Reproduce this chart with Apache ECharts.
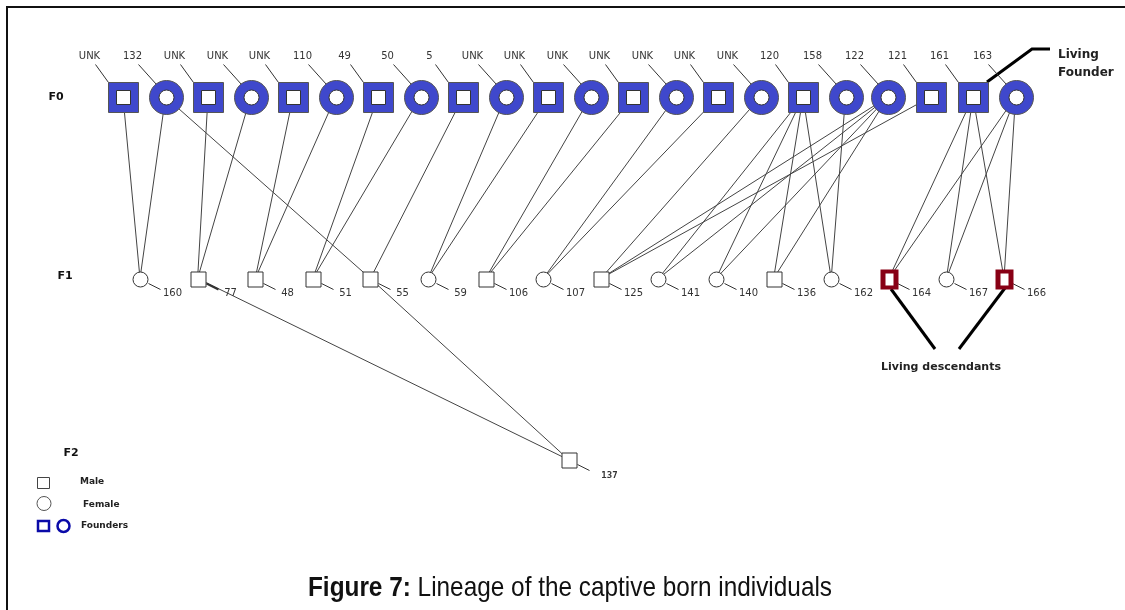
<!DOCTYPE html>
<html>
<head>
<meta charset="utf-8">
<script src="https://cdn.jsdelivr.net/npm/echarts@6/dist/echarts.min.js"></script>
<style>
  html, body { margin: 0; padding: 0; background: #fff; }
  #main { width: 1125px; height: 610px; }
</style>
</head>
<body>
<div id="main"></div>
<script>
// founders (F0), left to right
var f0Ids = ['UNK', '132', 'UNK', 'UNK', 'UNK', '110', '49', '50', '5', 'UNK', 'UNK',
             'UNK', 'UNK', 'UNK', 'UNK', 'UNK', '120', '158', '122', '121', '161', '163'];
var f0Sex = ['M', 'F', 'M', 'F', 'M', 'F', 'M', 'F', 'M', 'F', 'M',
             'F', 'M', 'F', 'M', 'F', 'M', 'F', 'F', 'M', 'M', 'F'];

// first generation (F1)
var f1Ids = ['160', '77', '48', '51', '55', '59', '106', '107', '125', '141', '140', '136', '162', '164', '167', '166'];
var f1Sex = ['F', 'M', 'M', 'M', 'M', 'F', 'M', 'F', 'M', 'F', 'F', 'M', 'F', 'M', 'F', 'M'];
// index of parents in f0Ids
var f1Parents = [[0, 1], [2, 3], [4, 5], [6, 7], [8, 1], [9, 10], [11, 12], [13, 14],
                 [15, 18, 19], [16, 18], [16, 18], [16, 18], [16, 17], [20, 21], [20, 21], [20, 21]];

// second generation (F2)
var f2Ids = ['137'];
var f2Sex = ['M'];
var f2Parents = [[1, 4]]; // index in f1Ids

var livingDescendants = ['164', '166'];

// layout of the rows
var ROW_START = [123, 140, 569];
var ROW_STEP = [42.5, 57.6, 0];
function xOf(gen, i) { return ROW_START[gen] + ROW_STEP[gen] * i; }

var BLUE = '#3F48CC';
var RED = '#880015';
var LINE = '#444';

var nodes = [];
f0Ids.forEach(function (id, i) { nodes.push([xOf(0, i), 0, id, f0Sex[i]]); });
f1Ids.forEach(function (id, i) { nodes.push([xOf(1, i), 1, id, f1Sex[i]]); });
f2Ids.forEach(function (id, i) { nodes.push([xOf(2, i), 2, id, f2Sex[i]]); });

var edges = [];
f1Parents.forEach(function (ps, j) {
  ps.forEach(function (p) { edges.push([xOf(0, p), 0, xOf(1, j), 1]); });
});
f2Parents.forEach(function (ps, j) {
  ps.forEach(function (p) { edges.push([xOf(1, p), 1, xOf(2, j), 2]); });
});

var chart = echarts.init(document.getElementById('main'));

function renderEdge(params, api) {
  var a = api.coord([api.value(0), api.value(1)]);
  var b = api.coord([api.value(2), api.value(3)]);
  return {
    type: 'line',
    shape: { x1: a[0], y1: a[1], x2: b[0], y2: b[1] },
    style: { stroke: LINE, lineWidth: 1 }
  };
}

function renderNode(params, api) {
  var gen = api.value(1);
  var id = nodes[params.dataIndex][2];
  var sex = nodes[params.dataIndex][3];
  var p = api.coord([api.value(0), gen]);
  var cx = Math.round(p[0]) + 0.5, cy = Math.round(p[1]) + 0.5;
  var ch = [];
  var font = '10px "DejaVu Sans"';
  if (gen === 0) {
    ch.push({ type: 'text', style: { text: id, x: cx - 34, y: cy - 41, fill: '#333', font: font, align: 'center', verticalAlign: 'middle' } });
    ch.push({ type: 'line', shape: { x1: cx - 28, y1: cy - 33, x2: sex === 'M' ? cx - 15 : cx - 10, y2: sex === 'M' ? cy - 15 : cy - 13 }, style: { stroke: '#333', lineWidth: 1 } });
    if (sex === 'M') {
      ch.push({ type: 'rect', shape: { x: cx - 15, y: cy - 15, width: 30, height: 30 }, style: { fill: BLUE, stroke: '#555', lineWidth: 1 } });
      ch.push({ type: 'rect', shape: { x: cx - 7, y: cy - 7, width: 14, height: 14 }, style: { fill: '#fff', stroke: '#333', lineWidth: 1 } });
    } else {
      ch.push({ type: 'circle', shape: { cx: cx, cy: cy, r: 17 }, style: { fill: BLUE, stroke: '#555', lineWidth: 1 } });
      ch.push({ type: 'circle', shape: { cx: cx, cy: cy, r: 7.5 }, style: { fill: '#fff', stroke: '#333', lineWidth: 1 } });
    }
  } else {
    var off = gen === 1 ? [32, 14] : [40, 15];
    ch.push({ type: 'text', style: { text: id, x: cx + off[0], y: cy + off[1], fill: '#333', font: gen === 1 ? font : 'bold 9px "DejaVu Sans Mono"', align: 'center', verticalAlign: 'middle' } });
    ch.push({ type: 'line', shape: { x1: cx + 8, y1: cy + 4, x2: cx + 20, y2: cy + 10 }, style: { stroke: '#333', lineWidth: id === '77' ? 2 : 1 } });
    if (livingDescendants.indexOf(id) >= 0) {
      ch.push({ type: 'rect', shape: { x: cx - 9, y: cy - 10, width: 18, height: 20 }, style: { fill: RED } });
      ch.push({ type: 'rect', shape: { x: cx - 4, y: cy - 6, width: 8, height: 12 }, style: { fill: '#fff' } });
    } else if (sex === 'M') {
      ch.push({ type: 'rect', shape: { x: cx - 7.5, y: cy - 7.5, width: 15, height: 15 }, style: { fill: '#fff', stroke: '#333', lineWidth: 1 } });
    } else {
      ch.push({ type: 'circle', shape: { cx: cx, cy: cy, r: 7.5 }, style: { fill: '#fff', stroke: '#333', lineWidth: 1 } });
    }
  }
  return { type: 'group', children: ch };
}

var boldFont = 'bold 11px "DejaVu Sans"';
var option = {
  animation: false,
  backgroundColor: '#fff',
  grid: { left: 0, right: 0, top: 0, bottom: 0 },
  xAxis: { type: 'value', min: 0, max: 1125, show: false },
  yAxis: { type: 'value', min: -0.5344, max: 2.8264, inverse: true, show: false },
  series: [
    { type: 'custom', renderItem: renderEdge, data: edges, z: 1, silent: true },
    { type: 'custom', renderItem: renderNode, data: nodes.map(function (n) { return [n[0], n[1]]; }), z: 2, silent: true }
  ],
  graphic: [
    { type: 'rect', z: 0, shape: { x: 7, y: 7, width: 1140, height: 640 }, style: { fill: 'transparent', stroke: '#111', lineWidth: 2 } },
    { type: 'text', style: { text: 'F0', x: 56, y: 97, font: boldFont, fill: '#111', align: 'center', verticalAlign: 'middle' } },
    { type: 'text', style: { text: 'F1', x: 65, y: 276, font: boldFont, fill: '#111', align: 'center', verticalAlign: 'middle' } },
    { type: 'text', style: { text: 'F2', x: 71, y: 453, font: boldFont, fill: '#111', align: 'center', verticalAlign: 'middle' } },
    // legend
    { type: 'rect', shape: { x: 37.5, y: 477.5, width: 12, height: 11 }, style: { fill: '#fff', stroke: '#444', lineWidth: 1 } },
    { type: 'text', style: { text: 'Male', x: 80, y: 482, font: 'bold 9px "DejaVu Sans"', fill: '#222', verticalAlign: 'middle' } },
    { type: 'circle', shape: { cx: 44, cy: 503.5, r: 7 }, style: { fill: '#fff', stroke: '#555', lineWidth: 1 } },
    { type: 'text', style: { text: 'Female', x: 83, y: 505, font: 'bold 9px "DejaVu Sans"', fill: '#222', verticalAlign: 'middle' } },
    { type: 'rect', shape: { x: 38, y: 521, width: 11, height: 10 }, style: { fill: '#fff', stroke: '#0a0aa8', lineWidth: 2.5 } },
    { type: 'circle', shape: { cx: 63.5, cy: 526, r: 6 }, style: { fill: '#fff', stroke: '#0a0aa8', lineWidth: 2.5 } },
    { type: 'text', style: { text: 'Founders', x: 81, y: 526, font: 'bold 9px "DejaVu Sans"', fill: '#222', verticalAlign: 'middle' } },
    // living founder note
    { type: 'polyline', shape: { points: [[987, 82], [1032, 49], [1050, 49]] }, style: { stroke: '#000', lineWidth: 3, fill: null } },
    { type: 'text', style: { text: 'Living\nFounder', x: 1058, y: 64, font: 'bold 12px "DejaVu Sans"', lineHeight: 18, fill: '#222', verticalAlign: 'middle' } },
    // living descendants note
    { type: 'line', shape: { x1: 891, y1: 289, x2: 935, y2: 349 }, style: { stroke: '#000', lineWidth: 3 } },
    { type: 'line', shape: { x1: 1005, y1: 288, x2: 959, y2: 349 }, style: { stroke: '#000', lineWidth: 3 } },
    { type: 'text', style: { text: 'Living descendants', x: 941, y: 367, font: 'bold 11px "DejaVu Sans"', fill: '#222', align: 'center', verticalAlign: 'middle' } },
    // caption (narrow face drawn by squeezing the sans font)
    { type: 'text', x: 570, y: 588, scaleX: 0.87, style: {
        text: '{b|Figure 7:} Lineage of the captive born individuals', x: 0, y: 0,
        align: 'center', verticalAlign: 'middle', fill: '#111',
        font: '28px "Liberation Sans"',
        rich: { b: { fontWeight: 'bold', fontSize: 28, fontFamily: '"Liberation Sans"', fill: '#111' } }
    } }
  ]
};
chart.setOption(option);
</script>
</body>
</html>
